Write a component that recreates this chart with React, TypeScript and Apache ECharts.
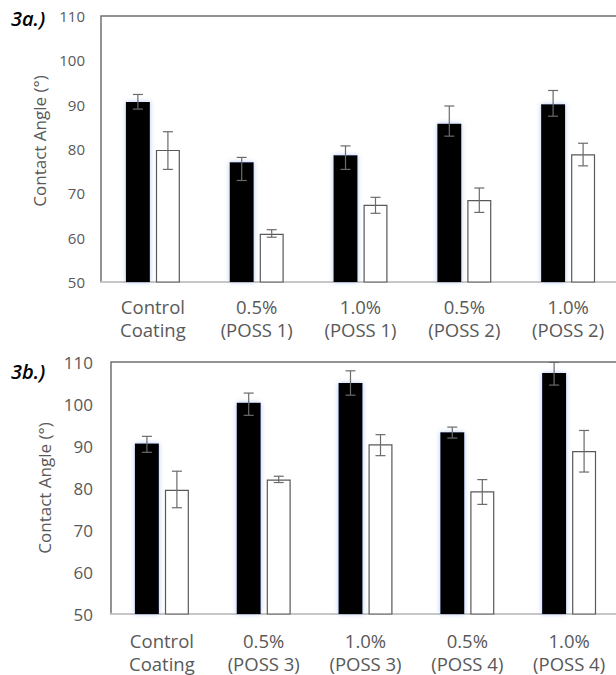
import React, { useEffect, useRef } from "react";
import * as echarts from "echarts";

const categoriesA = ["Control\nCoating", "0.5%\n(POSS 1)", "1.0%\n(POSS 1)", "0.5%\n(POSS 2)", "1.0%\n(POSS 2)"];
const categoriesB = ["Control\nCoating", "0.5%\n(POSS 3)", "1.0%\n(POSS 3)", "0.5%\n(POSS 4)", "1.0%\n(POSS 4)"];

const yMin = 50;
const yMax = 110;
const yStep = 10;

const blackA = [90.6, 77.0, 78.6, 85.7, 90.1];
const blackALow = [89.0, 72.9, 75.4, 82.9, 87.4];
const blackAHigh = [92.3, 78.1, 80.7, 89.7, 93.2];
const whiteA = [79.8, 60.9, 67.4, 68.5, 78.8];
const whiteALow = [75.4, 60.1, 65.5, 65.7, 76.2];
const whiteAHigh = [83.9, 61.8, 69.1, 71.2, 81.3];

const blackB = [90.6, 100.3, 105.0, 93.3, 107.4];
const blackBLow = [88.5, 97.3, 102.1, 91.9, 104.5];
const blackBHigh = [92.3, 102.6, 107.9, 94.5, 109.9];
const whiteB = [79.6, 82.0, 90.4, 79.2, 88.8];
const whiteBLow = [75.3, 81.3, 87.7, 76.1, 83.8];
const whiteBHigh = [84.0, 82.8, 92.7, 82.0, 93.7];

const FONT = "'Open Sans', 'Noto Sans', sans-serif";
const GRAY = "#595959";

function errorSeries(gridIdx: number, low: number[], high: number[], offset: number) {
  return {
    type: "custom",
    xAxisIndex: gridIdx,
    yAxisIndex: gridIdx,
    z: 10,
    silent: true,
    data: low.map((l, i) => [i, l, high[i]]),
    encode: { x: 0, y: [1, 2] },
    renderItem: (params: any, api: any) => {
      const i = api.value(0);
      const top = api.coord([i, api.value(2)]);
      const bot = api.coord([i, api.value(1)]);
      const x = top[0] + offset;
      const hw = 5;
      const style = { stroke: "#6b6b6b", lineWidth: 1.2 };
      return {
        type: "group",
        children: [
          { type: "line", shape: { x1: x, y1: top[1], x2: x, y2: bot[1] }, style },
          { type: "line", shape: { x1: x - hw, y1: top[1], x2: x + hw, y2: top[1] }, style },
          { type: "line", shape: { x1: x - hw, y1: bot[1], x2: x + hw, y2: bot[1] }, style },
        ],
      };
    },
  };
}

function xAxisCfg(gridIndex: number, cats: string[], margin: number, fontSize: number) {
  return {
    type: "category",
    gridIndex,
    data: cats,
    axisLine: { show: true, lineStyle: { color: "#d9d9d9", width: 1.5 } },
    axisTick: { show: false },
    axisLabel: { color: GRAY, fontSize, fontFamily: FONT, lineHeight: 23, margin, interval: 0 },
    splitLine: { show: false },
  };
}

function yAxisCfg(gridIndex: number, fontSize: number, margin: number, nameGap: number, padding: number[]) {
  return {
    type: "value",
    gridIndex,
    min: yMin,
    max: yMax,
    interval: yStep,
    name: "Contact Angle (°)",
    nameLocation: "middle",
    nameRotate: 90,
    nameGap,
    nameTextStyle: { color: GRAY, fontSize: 17, fontFamily: FONT, padding },
    axisLine: { show: false },
    axisTick: { show: false },
    splitLine: { show: false },
    axisLabel: { color: GRAY, fontSize, fontFamily: FONT, margin },
  };
}

function barPair(gridIdx: number, black: number[], white: number[]) {
  return [
    {
      type: "bar",
      xAxisIndex: gridIdx,
      yAxisIndex: gridIdx,
      data: black,
      barWidth: 24,
      barGap: "25%",
      itemStyle: {
        color: "#000000",
        shadowColor: "rgba(90,130,220,0.45)",
        shadowBlur: 5,
      },
    },
    {
      type: "bar",
      xAxisIndex: gridIdx,
      yAxisIndex: gridIdx,
      data: white,
      barWidth: 24,
      barGap: "25%",
      itemStyle: { color: "#ffffff", borderColor: "#595959", borderWidth: 1.2 },
    },
  ];
}

export default function App() {
  const ref = useRef<HTMLDivElement>(null);
  useEffect(() => {
    if (!ref.current) return;
    const chart = echarts.init(ref.current, undefined, { renderer: "svg" });
    chart.setOption({
      animation: false,
      backgroundColor: "#ffffff",
      grid: [
        { left: 101, top: 16, width: 519, height: 266, show: true, borderColor: "#707070", borderWidth: 1.5, backgroundColor: "transparent" },
        { left: 111, top: 362, width: 509, height: 255, show: true, borderColor: "#707070", borderWidth: 1.5, backgroundColor: "transparent" },
      ],
      xAxis: [xAxisCfg(0, categoriesA, 13, 18.5), xAxisCfg(1, categoriesB, 15, 18.5)],
      yAxis: [yAxisCfg(0, 15, 16, 48, [0, 0, 0, 16]), yAxisCfg(1, 17, 18, 56, [0, 0, 0, 0])],
      series: [
        ...barPair(0, blackA, whiteA),
        ...barPair(1, blackB, whiteB),
        errorSeries(0, blackALow, blackAHigh, -15),
        errorSeries(0, whiteALow, whiteAHigh, 15),
        errorSeries(1, blackBLow, blackBHigh, -15),
        errorSeries(1, whiteBLow, whiteBHigh, 15),
      ],
      graphic: [
        { type: "text", left: 11, top: 8, style: { text: "3a.)", font: `italic 600 20px ${FONT}`, fill: "#000" } },
        { type: "text", left: 11, top: 361, style: { text: "3b.)", font: `italic 600 20px ${FONT}`, fill: "#000" } },
      ],
    });
    return () => chart.dispose();
  }, []);
  return (
    <div style={{ position: "fixed", left: 0, top: 0, width: 616, height: 675, overflow: "hidden", background: "#fff" }}>
      <div ref={ref} style={{ width: 632, height: 675 }} />
    </div>
  );
}
